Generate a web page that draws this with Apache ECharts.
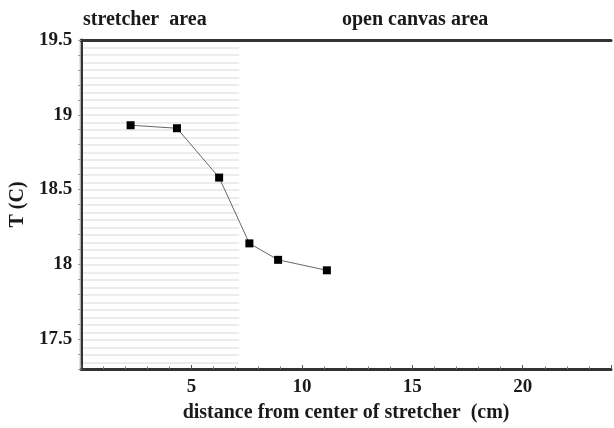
<!DOCTYPE html>
<html>
<head>
<meta charset="utf-8">
<script src="https://cdn.jsdelivr.net/npm/echarts@6/dist/echarts.min.js"></script>
<style>html,body{margin:0;padding:0;background:#fff}#c{width:614px;height:428px}</style>
</head>
<body>
<div id="c"></div>
<script>
// Data
const distanceCm = [2.24, 4.34, 6.25, 7.62, 8.92, 11.13];
const temperatureC = [18.93, 18.91, 18.58, 18.14, 18.03, 17.96];
const xLabels = [5, 10, 15, 20];
const yLabels = [17.5, 18, 18.5, 19, 19.5];
const stretcherEndCm = 7.15;
const regionTitles = ['stretcher  area', 'open canvas area'];

const xMin = 0, xMax = 24, yMin = 17.3, yMax = 19.5;
const W = 614, gridLeft = 80, gridRight = 0, gridTop = 40, gridBottom = 58;
const plotW = W - gridLeft - gridRight;
const font = 'Liberation Serif';
const textStyle = {fontFamily: font, fontWeight: 'bold', color: '#1a1a1a', fontSize: 18};

const chart = echarts.init(document.getElementById('c'), null, {renderer: 'canvas'});
chart.setOption({
  animation: false,
  backgroundColor: '#fff',
  textStyle: {fontFamily: font},
  title: [
    {text: regionTitles[0], left: 78, top: 5, textStyle: Object.assign({}, textStyle, {fontSize: 20})},
    {text: regionTitles[1], left: 337, top: 5, textStyle: Object.assign({}, textStyle, {fontSize: 20})}
  ],
  grid: [
    {left: gridLeft, right: gridRight, top: gridTop, bottom: gridBottom},
    {left: gridLeft, width: plotW * (stretcherEndCm - xMin) / (xMax - xMin), top: gridTop, bottom: gridBottom}
  ],
  xAxis: [
    {
      type: 'value', gridIndex: 0, min: xMin, max: xMax, interval: 5,
      axisLine: {lineStyle: {color: '#333', width: 3}},
      axisTick: {inside: true, length: 4, lineStyle: {color: '#555'}},
      minorTick: {show: true, splitNumber: 5, length: 2.5, lineStyle: {color: '#777'}},
      splitLine: {show: false},
      axisLabel: Object.assign({}, textStyle, {fontSize: 19, margin: 9, hideOverlap: false,
        showMinLabel: true, showMaxLabel: true,
        formatter: v => xLabels.indexOf(Math.round(v)) >= 0 ? String(Math.round(v)) : ''}),
      name: 'distance from center of stretcher  (cm)', nameLocation: 'middle', nameGap: 34,
      nameTextStyle: Object.assign({}, textStyle, {fontSize: 20})
    },
    {
      type: 'value', gridIndex: 0, position: 'top', min: xMin, max: xMax,
      axisLine: {lineStyle: {color: '#333', width: 3}},
      axisTick: {show: false}, axisLabel: {show: false}, splitLine: {show: false}
    },
    {
      type: 'value', gridIndex: 1, min: xMin, max: stretcherEndCm, show: false
    }
  ],
  yAxis: [
    {
      type: 'value', gridIndex: 0, min: yMin, max: yMax, interval: 0.1,
      axisLine: {show: true, lineStyle: {color: '#333', width: 3}},
      axisTick: {show: false},
      splitLine: {show: false},
      axisLabel: Object.assign({}, textStyle, {fontSize: 19, margin: 9, hideOverlap: false,
        formatter: v => {
          const r = Math.round(v * 10) / 10;
          return yLabels.indexOf(r) >= 0 ? String(r) : '';
        }}),
      name: 'T (C)', nameLocation: 'middle', nameGap: 52, nameRotate: 90,
      nameTextStyle: Object.assign({}, textStyle, {fontSize: 20})
    },
    {
      type: 'value', gridIndex: 0, position: 'right', min: yMin, max: yMax, interval: 0.1,
      axisLine: {show: false},
      axisTick: {show: true, inside: true, length: 3, lineStyle: {color: '#999'}},
      axisLabel: {show: false}, splitLine: {show: false}
    },
    {
      type: 'value', gridIndex: 1, position: 'right', min: yMin, max: yMax, interval: 0.05,
      axisLine: {show: true, lineStyle: {color: '#dcdcdc', width: 1.5}},
      axisTick: {show: false}, axisLabel: {show: false},
      splitLine: {show: true, lineStyle: {color: '#e6e6e6', width: 1.5}}
    }
  ],
  series: [{
    type: 'line', xAxisIndex: 0, yAxisIndex: 0,
    data: distanceCm.map((x, i) => [x, temperatureC[i]]),
    symbol: 'rect', symbolSize: 8,
    lineStyle: {color: '#666', width: 1},
    itemStyle: {color: '#000'},
    z: 10
  }]
});
</script>
</body>
</html>
